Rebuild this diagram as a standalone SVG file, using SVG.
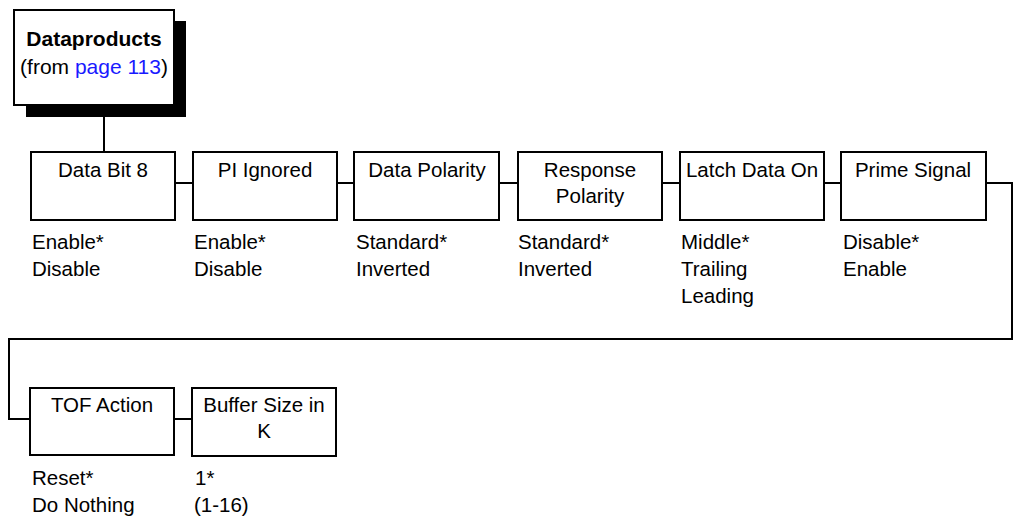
<svg xmlns="http://www.w3.org/2000/svg" width="1013" height="517" viewBox="0 0 1013 517">
<style>
text{font-family:"Liberation Sans",Arial,sans-serif;font-size:20.5px;fill:#000}
.box{fill:#fff;stroke:#000;stroke-width:2}
.c{text-anchor:middle}
.b{font-weight:bold}
.lnk{fill:#1a1aff}
.wire{fill:none;stroke:#000;stroke-width:2}
</style>
<rect width="1013" height="517" fill="#fff"/>
<g id="connectors">
<path class="wire" d="M104 105V152"/>
<path class="wire" d="M175 183H193M337 183H354M499 183H518M662 183H680M824 183H841"/>
<path class="wire" d="M986 183H1012V339H9V419H30"/>
<path class="wire" d="M174 419H192"/>
</g>
<g id="dataproducts">
<rect x="26" y="21" width="160" height="96" fill="#000"/>
<rect class="box" x="14" y="10" width="160" height="95"/>
<text class="c b" x="94" y="46" style="font-size:21px">Dataproducts</text>
<text class="c" x="94" y="74" style="font-size:21px">(from <tspan class="lnk">page 113</tspan>)</text>
</g>
<g id="databit8">
<rect class="box" x="31" y="152" width="144" height="68"/>
<text class="c" x="103" y="177">Data Bit 8</text>
<text x="32" y="249">Enable*</text>
<text x="32" y="276">Disable</text>
</g>
<g id="piignored">
<rect class="box" x="193" y="152" width="144" height="68"/>
<text class="c" x="265" y="177">PI Ignored</text>
<text x="194" y="249">Enable*</text>
<text x="194" y="276">Disable</text>
</g>
<g id="datapolarity">
<rect class="box" x="354" y="152" width="145" height="68"/>
<text class="c" x="427" y="177">Data Polarity</text>
<text x="356" y="249">Standard*</text>
<text x="356" y="276">Inverted</text>
</g>
<g id="responsepolarity">
<rect class="box" x="518" y="152" width="144" height="68"/>
<text class="c" x="590" y="177">Response</text>
<text class="c" x="590" y="203">Polarity</text>
<text x="518" y="249">Standard*</text>
<text x="518" y="276">Inverted</text>
</g>
<g id="latchdataon">
<rect class="box" x="680" y="152" width="144" height="68"/>
<text class="c" x="752" y="177">Latch Data On</text>
<text x="681" y="249">Middle*</text>
<text x="681" y="276">Trailing</text>
<text x="681" y="303">Leading</text>
</g>
<g id="primesignal">
<rect class="box" x="841" y="152" width="145" height="68"/>
<text class="c" x="913" y="177">Prime Signal</text>
<text x="843" y="249">Disable*</text>
<text x="843" y="276">Enable</text>
</g>
<g id="tofaction">
<rect class="box" x="30" y="388" width="144" height="67"/>
<text class="c" x="102" y="412">TOF Action</text>
<text x="32" y="485">Reset*</text>
<text x="32" y="512">Do Nothing</text>
</g>
<g id="buffersize">
<rect class="box" x="192" y="388" width="144" height="68"/>
<text class="c" x="264" y="412">Buffer Size in</text>
<text class="c" x="264" y="438">K</text>
<text x="195" y="485">1*</text>
<text x="194" y="512">(1-16)</text>
</g>
</svg>
